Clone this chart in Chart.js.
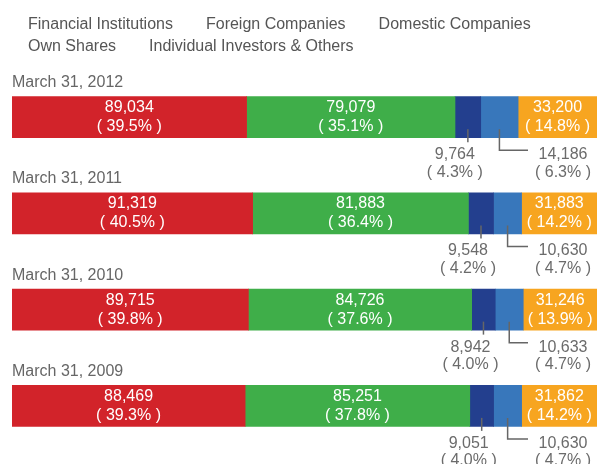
<!DOCTYPE html>
<html>
<head>
<meta charset="utf-8">
<script src="https://cdn.jsdelivr.net/npm/chart.js@4"></script>
<style>
  html, body { margin: 0; padding: 0; background: #fff; }
  #wrap { position: relative; width: 597px; height: 464px; overflow: hidden; }
  #legend {
    position: absolute; top: 13px; left: 28px; width: 569px;
    display: flex; flex-wrap: wrap;
    font: 16px "Liberation Sans", Arial, sans-serif; line-height: 22px; color: #555;
  }
  #legend span { margin-right: 33px; white-space: nowrap; }
</style>
</head>
<body>
<div id="wrap">
  <canvas id="shareChart" width="597" height="464"></canvas>
  <div id="legend"></div>
</div>
<script>
const categories = ["March 31, 2012", "March 31, 2011", "March 31, 2010", "March 31, 2009"];
const seriesNames = ["Financial Institutions", "Foreign Companies", "Domestic Companies", "Own Shares", "Individual Investors & Others"];

const financial = [89034, 91319, 89715, 88469];
const foreign = [79079, 81883, 84726, 85251];
const domestic = [9764, 9548, 8942, 9051];
const ownShares = [14186, 10630, 10633, 10630];
const individual = [33200, 31883, 31246, 31862];

const financialPct = [39.5, 40.5, 39.8, 39.3];
const foreignPct = [35.1, 36.4, 37.6, 37.8];
const domesticPct = [4.3, 4.2, 4.0, 4.0];
const ownSharesPct = [6.3, 4.7, 4.7, 4.7];
const individualPct = [14.8, 14.2, 13.9, 14.2];

const colors = ["#D2232A", "#3FAE49", "#233F8E", "#3877BB", "#F7A520"];
const FONT = '"Liberation Sans", Arial, sans-serif';

// legend (plain text, no colour boxes)
const legendEl = document.getElementById("legend");
seriesNames.forEach(name => {
  const s = document.createElement("span");
  s.textContent = name;
  legendEl.appendChild(s);
});

const values = [financial, foreign, domestic, ownShares, individual];
const pcts = [financialPct, foreignPct, domesticPct, ownSharesPct, individualPct];

const fmt = n => n.toLocaleString("en-US");
const pctText = p => "( " + p.toFixed(1) + "% )";

// category names above each bar
const categoryLabels = {
  id: "categoryLabels",
  afterDraw(chart) {
    const ctx = chart.ctx;
    const meta = chart.getDatasetMeta(0);
    ctx.save();
    ctx.font = "16px " + FONT;
    ctx.fillStyle = "#666";
    ctx.textAlign = "left";
    ctx.textBaseline = "middle";
    meta.data.forEach((bar, i) => {
      ctx.fillText(categories[i], chart.chartArea.left, bar.y - bar.height / 2 - 14);
    });
    ctx.restore();
  }
};

// value labels: inside for wide segments, below with leader lines for narrow ones
const valueLabels = {
  id: "valueLabels",
  afterDraw(chart) {
    const ctx = chart.ctx;
    const right = chart.chartArea.right;
    ctx.save();
    ctx.font = "16px " + FONT;
    ctx.textAlign = "center";
    ctx.textBaseline = "middle";
    chart.data.datasets.forEach((ds, d) => {
      const meta = chart.getDatasetMeta(d);
      meta.data.forEach((bar, i) => {
        const x0 = Math.min(bar.base, bar.x);
        const x1 = Math.min(Math.max(bar.base, bar.x), right);
        const cx = (x0 + x1) / 2;
        const y = bar.y;
        const v = fmt(values[d][i]);
        const p = pctText(pcts[d][i]);
        if (d === 2) {
          ctx.strokeStyle = "#666";
          ctx.lineWidth = 1.5;
          ctx.beginPath();
          ctx.moveTo(cx, y + 12);
          ctx.lineTo(cx, y + 25);
          ctx.stroke();
          ctx.fillStyle = "#6b6b6b";
          ctx.fillText(v, cx - 13, y + 37.5);
          ctx.fillText(p, cx - 13, y + 55);
        } else if (d === 3) {
          // label sits at the right edge, leader line bends over to it
          const lx = right - 34;
          ctx.strokeStyle = "#666";
          ctx.lineWidth = 1.5;
          ctx.beginPath();
          ctx.moveTo(cx, y + 12);
          ctx.lineTo(cx, y + 33);
          ctx.lineTo(lx - 35, y + 33);
          ctx.stroke();
          ctx.fillStyle = "#6b6b6b";
          ctx.fillText(v, lx, y + 37.5);
          ctx.fillText(p, lx, y + 55);
        } else {
          ctx.fillStyle = "#fff";
          ctx.fillText(v, cx, y - 9.5);
          ctx.fillText(p, cx, y + 9.5);
        }
      });
    });
    ctx.restore();
  }
};

new Chart(document.getElementById("shareChart").getContext("2d"), {
  type: "bar",
  data: {
    labels: categories,
    datasets: seriesNames.map((name, d) => ({
      label: name,
      data: values[d],
      backgroundColor: colors[d],
      borderWidth: 0,
      barThickness: 41
    }))
  },
  options: {
    indexAxis: "y",
    responsive: false,
    animation: false,
    layout: { padding: { top: 69, bottom: 10, left: 12, right: 0 } },
    scales: {
      x: { stacked: true, min: 0, max: 222000, display: false },
      y: { stacked: true, display: false }
    },
    plugins: {
      legend: { display: false },
      tooltip: { enabled: false }
    }
  },
  plugins: [categoryLabels, valueLabels]
});
</script>
</body>
</html>
